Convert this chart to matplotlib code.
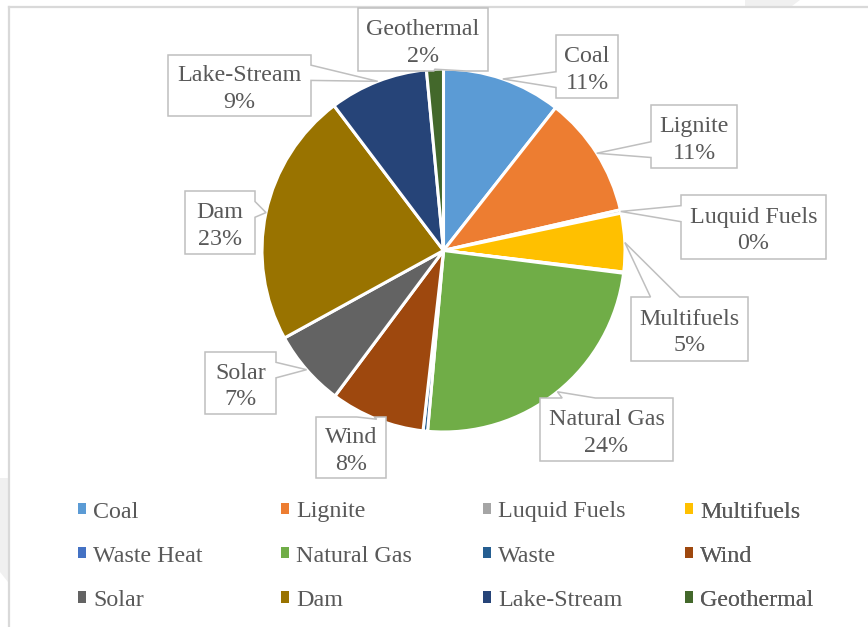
import matplotlib
matplotlib.use("Agg")
import matplotlib.pyplot as plt
from matplotlib.patches import Polygon, Patch
from matplotlib.lines import Line2D
from matplotlib import font_manager
import numpy as np
import os

# ---------------- data ----------------
categories = ["Coal", "Lignite", "Luquid Fuels", "Multifuels", "Waste Heat", "Natural Gas",
              "Waste", "Wind", "Solar", "Dam", "Lake-Stream", "Geothermal"]
values = [10.6, 10.8, 0.3, 5.2, 0.1, 24.4, 0.4, 8.4, 6.8, 22.7, 8.8, 1.5]
colors = ["#5B9BD5", "#ED7D31", "#A5A5A5", "#FFC000", "#4472C4", "#70AD47",
          "#255E91", "#9E480E", "#636363", "#997300", "#264478", "#43682B"]

# callout boxes (layout, pixel coords: left, top, right, bottom)
boxes = {
    "Coal": (556, 35, 618, 98),
    "Lignite": (651, 105, 737, 168),
    "Luquid Fuels": (681, 195, 826, 259),
    "Multifuels": (631, 297, 748, 361),
    "Natural Gas": (540, 398, 673, 461),
    "Wind": (316, 417, 386, 478),
    "Solar": (205, 352, 276, 414),
    "Dam": (185, 191, 255, 254),
    "Lake-Stream": (168, 55, 311, 116),
    "Geothermal": (358, 8, 488, 71),
}

W, H = 868, 627

# locate a Times-like serif font file
files = font_manager.findSystemFonts()
font_name = None
for key in ["LiberationSerif-Regular", "Tinos-Regular", "TimesNewRoman", "DejaVuSerif.ttf"]:
    hits = [f for f in files if key.lower() in os.path.basename(f).lower()]
    if hits and font_name is None:
        font_manager.fontManager.addfont(hits[0])
        font_name = font_manager.FontProperties(fname=hits[0]).get_name()
if font_name is None:
    font_name = "DejaVu Serif"
plt.rcParams["font.family"] = [font_name, "DejaVu Serif"]
FS = 17.3
TXT = "#595959"

fig = plt.figure(figsize=(W / 100, H / 100), dpi=100)
ax = fig.add_axes([0, 0, 1, 1])

cx, cy, R = 443.5, 250.5, 181.5
wedges, _ = ax.pie(values, colors=colors, startangle=90, counterclock=False,
                   center=(cx, H - cy), radius=R,
                   wedgeprops=dict(edgecolor="white", linewidth=2.2))
ax.set_xlim(0, W)
ax.set_ylim(0, H)
ax.axis("off")

# faint background shapes outside the frame
ax.add_patch(Polygon([(0, H - 478), (8, H - 478), (8, H - 582), (0, H - 572)],
                     closed=True, facecolor="#f0f0f0", edgecolor="none", zorder=0))
ax.add_patch(Polygon([(745, H), (800, H), (792, H - 6), (745, H - 6)],
                     closed=True, facecolor="#f0f0f0", edgecolor="none", zorder=0))

# frame lines
ax.add_line(Line2D([9, 9], [0, H - 7], color="#d9d9d9", lw=1.6, zorder=1))
ax.add_line(Line2D([9, W], [H - 7, H - 7], color="#d9d9d9", lw=1.6, zorder=1))


def callout(l, t, r, b, tx, ty):
    """Office wedgeRectCallout outline in pixel coords (y down)."""
    w, h = r - l, b - t
    hc, vc = (l + r) / 2, (t + b) / 2
    dxp, dyp = tx - hc, ty - vc
    dq = dxp * h / w
    dz = abs(dyp) - abs(dq)
    xg1, xg2 = (7, 10) if dxp > 0 else (2, 5)
    yg1, yg2 = (7, 10) if dyp > 0 else (2, 5)
    x1, x2 = l + w * xg1 / 12, l + w * xg2 / 12
    y1, y2 = t + h * yg1 / 12, t + h * yg2 / 12
    top = (tx, ty) if (dz > 0 and dyp <= 0) else (x1, t)
    bot = (tx, ty) if (dz > 0 and dyp > 0) else (x1, b)
    rgt = (tx, ty) if (dz <= 0 and dxp > 0) else (r, y1)
    lft = (tx, ty) if (dz <= 0 and dxp <= 0) else (l, y1)
    pts = [(l, t), (x1, t), top, (x2, t), (r, t), (r, y1), rgt, (r, y2), (r, b),
           (x2, b), bot, (x1, b), (l, b), (l, y2), lft, (l, y1)]
    return [(x, H - y) for x, y in pts]


total = sum(values)
for wdg, name, v in zip(wedges, categories, values):
    if name not in boxes:
        continue
    m = np.deg2rad((wdg.theta1 + wdg.theta2) / 2)
    tx, ty = cx + R * np.cos(m), cy - R * np.sin(m)
    l, t, r, b = boxes[name]
    poly = Polygon(callout(l, t, r, b, tx, ty), closed=True, facecolor="white",
                   edgecolor="#bfbfbf", lw=1.1, zorder=4)
    ax.add_patch(poly)
    pct = int(v / total * 100 + 0.5)
    ax.text((l + r) / 2, H - (t + b) / 2 - 3.5, f"{name}\n{pct}%", ha="center", va="center",
            fontsize=FS, color=TXT, linespacing=1.33, zorder=5)

# legend: 4 columns, row-major order
handles = [Patch(facecolor=c, edgecolor="none") for c in colors]
col_x = [78, 281, 483, 685]
for j in range(4):
    idx = [j, j + 4, j + 8]
    leg = ax.legend([handles[i] for i in idx], [categories[i] for i in idx],
                    loc="upper left", bbox_to_anchor=(col_x[j], H - 501.5),
                    bbox_transform=ax.transData, frameon=False,
                    prop=dict(size=FS), labelcolor=TXT,
                    handlelength=0.33, handleheight=0.33, handletextpad=0.3,
                    labelspacing=0.96, borderpad=0, borderaxespad=0)
    ax.add_artist(leg)

fig.savefig("out.png", dpi=100, facecolor="white")
